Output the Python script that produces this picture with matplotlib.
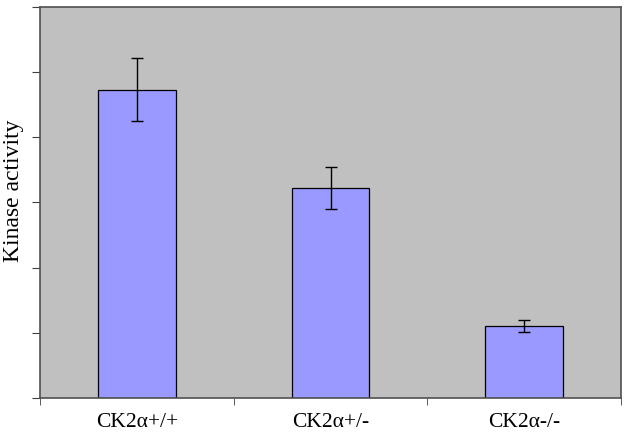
import matplotlib.pyplot as plt

# values (arbitrary units, 6 gridless ticks)
groups = ["CK2\u03b1+/+", "CK2\u03b1+/-", "CK2\u03b1-/-"]
activity = [4.73, 3.22, 1.10]
errors = [0.48, 0.32, 0.09]

plt.rcParams["font.family"] = ["Liberation Serif", "DejaVu Serif"]

fig = plt.figure(figsize=(6.29, 4.35), dpi=100)
ax = fig.add_axes([0.0636, 0.0828, 0.9237, 0.8988])
ax.set_facecolor("#c0c0c0")

x = range(len(groups))
ax.bar(x, activity, width=0.4, color="#9999ff", edgecolor="black", linewidth=0.9,
       yerr=errors, capsize=4, error_kw={"elinewidth": 1, "capthick": 1, "ecolor": "black"})

ax.set_xlim(-0.5, 2.5)
ax.set_ylim(0, 6)
ax.set_yticks(range(7))
ax.set_yticklabels([])
ax.tick_params(axis="y", direction="out", length=6, color="#404040")

ax.set_xticks(list(x))
ax.set_xticklabels(groups, fontsize=15.5)
ax.tick_params(axis="x", which="major", length=0, pad=10)
ax.set_xticks([-0.5, 0.5, 1.5, 2.5], minor=True)
ax.tick_params(axis="x", which="minor", direction="out", length=5, color="#404040")

for side in ["left", "bottom", "top", "right"]:
    ax.spines[side].set_color("#505050")
    ax.spines[side].set_linewidth(1.2)

ax.set_ylabel("Kinase activity", fontsize=17)
ax.yaxis.set_label_coords(-0.027, 0.532)

fig.savefig("out.png", dpi=100)
